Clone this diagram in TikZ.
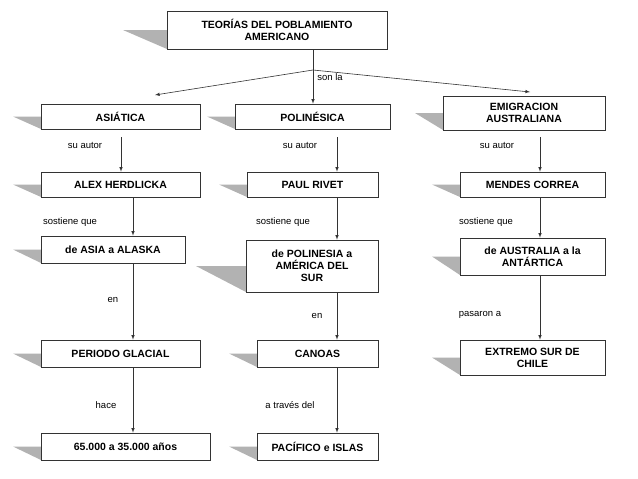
\documentclass[tikz,border=0pt]{standalone}
\usepackage{fontspec}
\setmainfont{Liberation Sans}
\begin{document}
\begin{tikzpicture}[x=1pt,y=-1pt,
 box/.style={draw=black!80,line width=0.6pt,fill=white,font=\bfseries\fontsize{10.5}{12}\selectfont,align=center,inner sep=0pt},
 lab/.style={font=\fontsize{9.5}{11}\selectfont,inner sep=1pt},
 arr/.style={draw=black!80,line width=0.6pt,-latex}]
\useasboundingbox (0,0) rectangle (638,479);
\fill[white] (0,0) rectangle (638,479);
\def\sbox#1#2#3#4#5#6#7{% name,x1,y1,x2,y2,shadowlen,text
 \fill[black!30] ({#2-#6},{(#3+#5)/2}) -- (#2,{(#3+#5)/2}) -- (#2,#5) -- cycle;
 \node[box,minimum width={#4-#2},minimum height={#5-#3}] (#1) at ({(#2+#4)/2},{(#3+#5)/2}) {#7};}
\sbox{top}{167}{11}{387}{49}{44}{TEORÍAS DEL POBLAMIENTO\\AMERICANO}
\sbox{a1}{41}{104}{200}{129}{28}{ASIÁTICA}
\sbox{b1}{235}{104}{390}{129}{28}{POLINÉSICA}
\sbox{c1}{443}{96}{605}{130}{28}{EMIGRACION\\AUSTRALIANA}
\sbox{a2}{41}{172}{200}{197}{28}{ALEX HERDLICKA}
\sbox{b2}{247}{172}{378}{197}{28}{PAUL RIVET}
\sbox{c2}{460}{172}{605}{197}{28}{MENDES CORREA}
\sbox{a3}{41}{236}{185}{263}{28}{de ASIA a ALASKA}
\sbox{b3}{246}{240}{378}{292}{50}{de POLINESIA a\\AMÉRICA DEL\\SUR}
\sbox{c3}{460}{238}{605}{275}{28}{de AUSTRALIA a la\\ANTÁRTICA}
\sbox{a4}{41}{340}{200}{367}{28}{PERIODO GLACIAL}
\sbox{b4}{257}{340}{378}{367}{28}{CANOAS}
\sbox{c4}{460}{340}{605}{375}{28}{EXTREMO SUR DE\\CHILE}
\sbox{a5}{41}{433}{210}{460}{28}{65.000 a 35.000 años}
\sbox{b5}{257}{433}{378}{460}{28}{PACÍFICO e ISLAS}
\coordinate (sp) at (313,70);
\draw[draw=black!80,line width=0.6pt] (sp |- top.south) -- (sp);
\draw[arr] (sp) -- (155,95);
\draw[arr] (sp) -- (sp |- b1.north);
\draw[arr] (sp) -- (530,92);
\node[lab] (sl) at (330,77) {son la};
\draw[arr] (121,137) -- (121,0 |- a2.north);
\draw[arr] (337,137) -- (337,0 |- b2.north);
\draw[arr] (540,137) -- (540,0 |- c2.north);
\node[lab] at (85,145) {su autor};
\node[lab] at (300,145) {su autor};
\node[lab] at (497,145) {su autor};
\draw[arr] (133,0 |- a2.south) -- (133,0 |- a3.north);
\draw[arr] (337,0 |- b2.south) -- (337,0 |- b3.north);
\draw[arr] (540,0 |- c2.south) -- (540,0 |- c3.north);
\node[lab] at (70,222) {sostiene que};
\node[lab] at (283,222) {sostiene que};
\node[lab] at (486,222) {sostiene que};
\draw[arr] (133,0 |- a3.south) -- (133,0 |- a4.north);
\draw[arr] (337,0 |- b3.south) -- (337,0 |- b4.north);
\draw[arr] (540,0 |- c3.south) -- (540,0 |- c4.north);
\node[lab] at (113,300) {en};
\node[lab] at (317,316) {en};
\node[lab] at (480,315) {pasaron a};
\draw[arr] (133,0 |- a4.south) -- (133,0 |- a5.north);
\draw[arr] (337,0 |- b4.south) -- (337,0 |- b5.north);
\node[lab] at (106,405) {hace};
\node[lab] at (290,405) {a través del};
\end{tikzpicture}
\end{document}
